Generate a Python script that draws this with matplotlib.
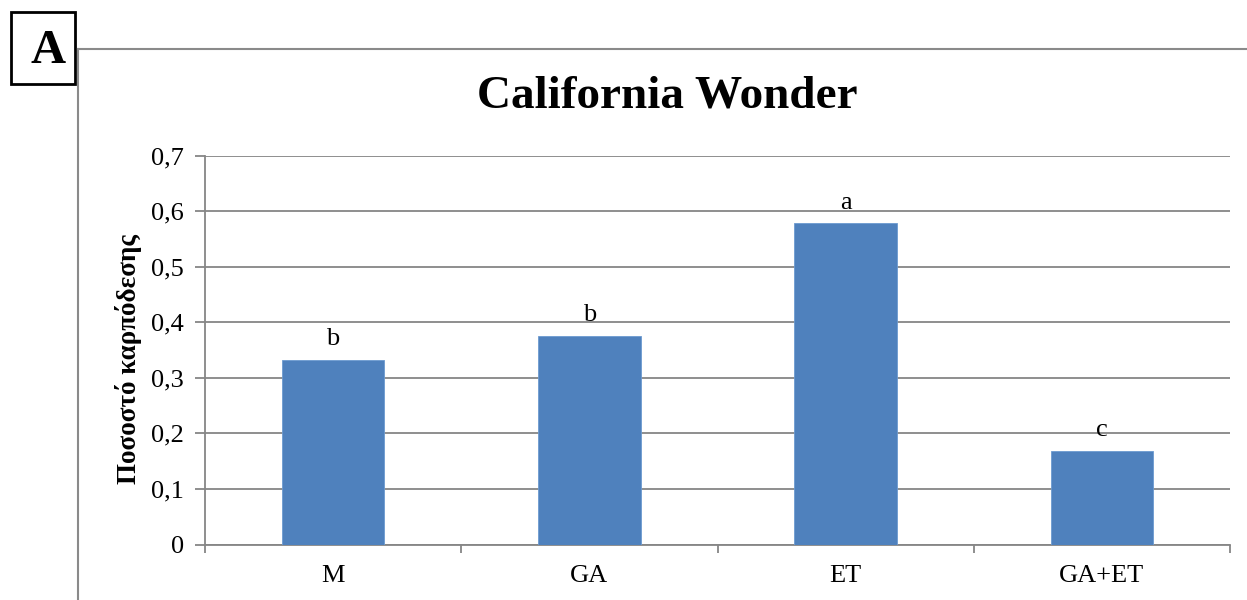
import matplotlib
matplotlib.use('Agg')
import matplotlib.pyplot as plt
from matplotlib.lines import Line2D
from matplotlib.patches import Rectangle
from matplotlib.ticker import FuncFormatter

categories = ['M', 'GA', 'ET', 'GA+ET']
values = [0.333, 0.376, 0.578, 0.169]
letters = ['b', 'b', 'a', 'c']
yticks = [0, 0.1, 0.2, 0.3, 0.4, 0.5, 0.6, 0.7]

plt.rcParams['font.family'] = ['Liberation Serif', 'DejaVu Serif']

W, H = 1247, 600
fig = plt.figure(figsize=(W / 100, H / 100), dpi=100)
ax = fig.add_axes([205 / W, (H - 544.5) / H, 1025 / W, (544.5 - 155.7) / H])

grey = '#868686'
x = range(len(categories))
ax.bar(x, values, width=0.4, color='#4F81BD', edgecolor='#6C9AD0', linewidth=0.6, zorder=3)
for i, (v, lab) in enumerate(zip(values, letters)):
    ax.annotate(lab, (i, v), xytext=(0, 7), textcoords='offset points',
                ha='center', va='bottom', fontsize=19)

ax.set_xlim(-0.5, len(categories) - 0.5)
ax.set_ylim(0, 0.7)
ax.set_yticks(yticks)
ax.yaxis.set_major_formatter(FuncFormatter(lambda v, p: ('%g' % round(v, 1)).replace('.', ',')))
ax.set_xticks(list(x))
ax.set_xticklabels(categories, fontsize=19)
ax.set_xticks([i - 0.5 for i in range(len(categories) + 1)], minor=True)
ax.tick_params(axis='x', which='major', length=0, pad=15)
ax.tick_params(axis='x', which='minor', length=6, color=grey, width=1.3)
ax.tick_params(axis='y', length=7, color=grey, width=1.3, labelsize=19, pad=8)
ax.yaxis.grid(True, color=grey, linewidth=1.3)
ax.set_axisbelow(True)
for s in ['top', 'right']:
    ax.spines[s].set_visible(False)
for s in ['left', 'bottom']:
    ax.spines[s].set_color(grey)
    ax.spines[s].set_linewidth(1.3)

ax.set_ylabel('Ποσοστό καρπόδεσης', fontsize=19.5, fontweight='bold')
ax.yaxis.set_label_coords(-0.061, 0.478)
fig.text(667 / W, 1 - 97 / H, 'California Wonder', ha='center', va='center',
         fontsize=34, fontweight='bold')

# panel frame
fig.add_artist(Line2D([77.5 / W, 77.5 / W], [0, 1 - 48.5 / H], color='#8a8a8a', linewidth=1.5))
fig.add_artist(Line2D([77.5 / W, 1], [1 - 48.5 / H, 1 - 48.5 / H], color='#8a8a8a', linewidth=1.5))
fig.add_artist(Rectangle((11 / W, 1 - 84 / H), 64 / W, 72 / H, fill=True, facecolor='white',
                         edgecolor='black', linewidth=2, transform=fig.transFigure))
fig.text(48 / W, 1 - 51 / H, 'A', ha='center', va='center', fontsize=35, fontweight='bold')

fig.savefig('out.png', dpi=100)
